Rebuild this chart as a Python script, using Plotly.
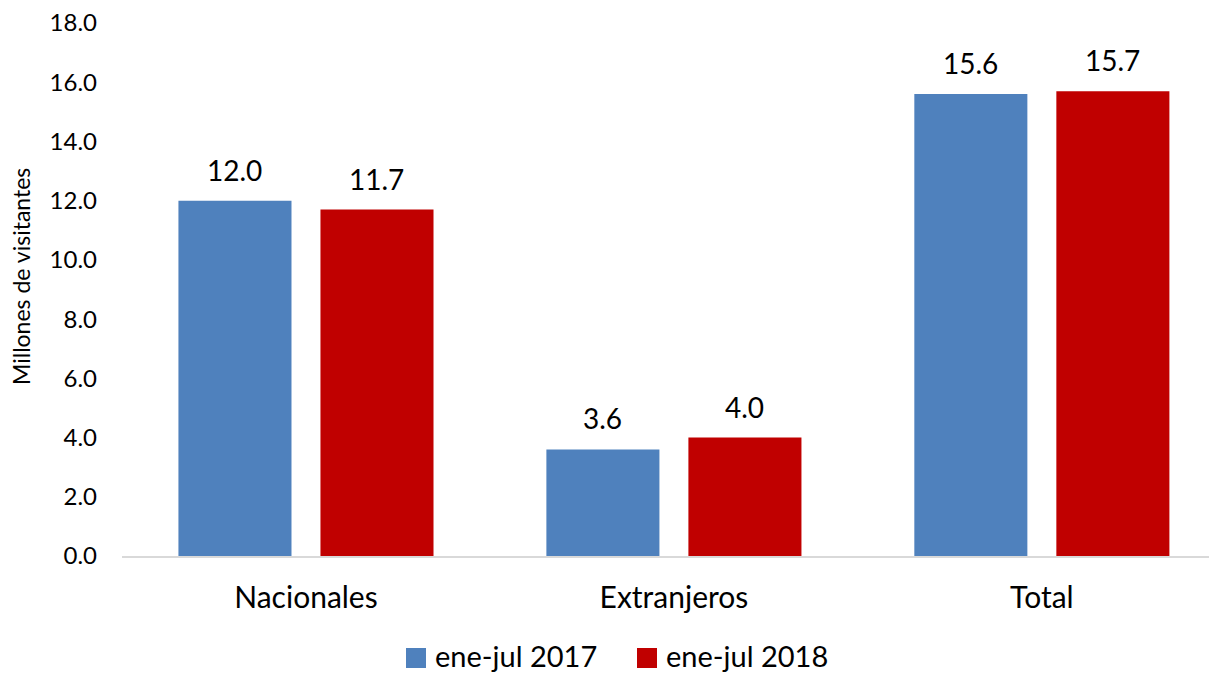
import plotly.graph_objects as go

categories = ["Nacionales", "Extranjeros", "Total"]
series_names = ["ene-jul 2017", "ene-jul 2018"]
values_2017 = [12.0, 3.6, 15.6]
values_2018 = [11.7, 4.0, 15.7]
colors = ["#4F81BD", "#C00000"]
y_ticks = [0, 2, 4, 6, 8, 10, 12, 14, 16, 18]
y_title = "Millones de visitantes"

FONT = "Lato"
OFF = 8  # default page body margin
W, H = 1217 - OFF, 673 - OFF
ML, MR, MT, MB = 122 - OFF, 0, 23 - OFF, 117
PW, PH = W - ML - MR, H - MT - MB


def px_x(page_x):
    return (page_x - OFF - ML) / PW


def px_y(page_y):
    return (H - MB - (page_y - OFF)) / PH


fig = go.Figure()
for name, vals, col in zip(series_names, [values_2017, values_2018], colors):
    fig.add_trace(go.Bar(
        x=categories, y=vals, name=name,
        marker=dict(color=col, line=dict(width=0)),
        showlegend=False,
    ))

# data labels above bars
slot_px = 142
for i, vals in enumerate([values_2017, values_2018]):
    shift = (i - 0.5) * slot_px
    for c, v in zip(categories, vals):
        fig.add_annotation(x=c, y=v, text=f"{v:.1f}", showarrow=False,
                           xshift=shift, yshift=12, yanchor="bottom",
                           font=dict(family=FONT, size=28, color="#000000"))

# y axis title
fig.add_annotation(xref="paper", yref="paper", x=px_x(21), y=px_y(277),
                   text=y_title, textangle=-90, showarrow=False,
                   xanchor="center", yanchor="middle",
                   font=dict(family=FONT, size=23, color="#000000"))

# custom legend
leg_y = 658
leg_items = [(406, 433), (637, 664)]
for (sx, tx), name, col in zip(leg_items, series_names, colors):
    fig.add_shape(type="rect", xref="paper", yref="paper",
                  x0=px_x(sx), x1=px_x(sx + 20),
                  y0=px_y(leg_y + 10), y1=px_y(leg_y - 10),
                  fillcolor=col, line=dict(width=0))
    fig.add_annotation(xref="paper", yref="paper", x=px_x(tx), y=px_y(leg_y - 3),
                       text=name, showarrow=False, xanchor="left", yanchor="middle",
                       font=dict(family=FONT, size=29, color="#000000"))

fig.update_layout(
    width=W, height=H,
    margin=dict(l=ML, r=MR, t=MT, b=MB),
    paper_bgcolor="white", plot_bgcolor="white",
    barmode="group", bargap=0.228, bargroupgap=0.204,
    font=dict(family=FONT, size=24, color="#000000"),
    showlegend=False,
    xaxis=dict(range=[-0.5, 2.476], showline=True, linecolor="#D9D9D9", linewidth=2,
               ticks="", tickfont=dict(family=FONT, size=30), showgrid=False,
               automargin=False, ticklabelstandoff=14),
    yaxis=dict(range=[0, 18.002], tickvals=y_ticks, tickformat=".1f", showgrid=False,
               zeroline=False, showline=False, ticks="",
               tickfont=dict(family=FONT, size=24), automargin=False,
               ticklabelstandoff=24, ticklabeloverflow="allow"),
)

fig.write_html("out.html")
